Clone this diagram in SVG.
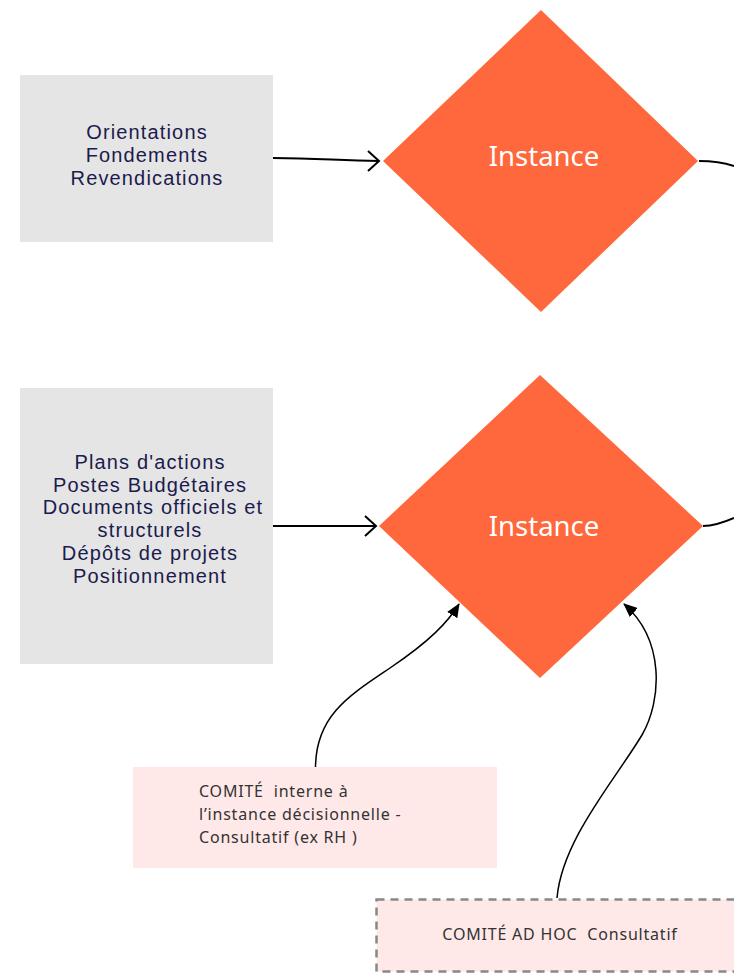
<svg xmlns="http://www.w3.org/2000/svg" width="734" height="973" viewBox="0 0 734 973">
<style>
.src{fill:#e5e5e5}
.srct{font-family:"Liberation Sans",Arial,sans-serif;font-size:20px;letter-spacing:1.15px;fill:#1b1b4d;text-anchor:middle}
.dia{fill:#ff673c}
.diat{font-family:"Noto Sans",sans-serif;font-size:27.5px;fill:#ffffff;text-anchor:middle}
.com{fill:#ffe8e8}
.comt{font-family:"Noto Sans",sans-serif;font-size:16px;letter-spacing:0.8px;fill:#333333;white-space:pre}
.thick{fill:none;stroke:#000;stroke-width:2}
.thin{fill:none;stroke:#000;stroke-width:1.5}
</style>
<defs>
<marker id="chev" viewBox="0 0 14 22" refX="12" refY="11" markerWidth="14" markerHeight="22" markerUnits="userSpaceOnUse" orient="auto">
<polyline points="1,1 12,11 1,21" fill="none" stroke="#000" stroke-width="2"/>
</marker>
<marker id="tri" viewBox="0 0 14 12" refX="13" refY="6" markerWidth="14" markerHeight="12" markerUnits="userSpaceOnUse" orient="auto">
<path d="M0,0 L14,6 L0,12 z" fill="#000"/>
</marker>
</defs>
<rect width="734" height="973" fill="#ffffff"/>
<g id="connectors">
<path class="thick" d="M273,158 C320,158 340,161 379,161" marker-end="url(#chev)"/>
<path class="thick" d="M699,161 C715,161 725,163 734,166"/>
<path class="thick" d="M273,526 L376,526" marker-end="url(#chev)"/>
<path class="thick" d="M703,526 C715,526 725,522 734,518"/>
<path class="thin" d="M315.5,767 C316,715 350,695 390,668 S448,622 459,604" marker-end="url(#tri)"/>
<path class="thin" d="M557,898 C562,840 615,780 642,735 C662,700 665,640 624,604" marker-end="url(#tri)"/>
</g>
<g id="src1">
<rect class="src" x="20" y="75" width="253" height="167"/>
<text class="srct" x="147" y="139">Orientations</text>
<text class="srct" x="147" y="162">Fondements</text>
<text class="srct" x="147" y="185">Revendications</text>
</g>
<g id="instance1">
<polygon class="dia" points="541,10 698,161 541,312 383,161"/>
<text class="diat" x="544" y="165.5">Instance</text>
</g>
<g id="src2">
<rect class="src" x="20" y="388" width="253" height="276"/>
<text class="srct" x="150" y="469">Plans d'actions</text>
<text class="srct" x="150" y="492">Postes Budgétaires</text>
<text class="srct" x="153" y="514">Documents officiels et</text>
<text class="srct" x="150" y="537">structurels</text>
<text class="srct" x="150" y="560">Dépôts de projets</text>
<text class="srct" x="150" y="583">Positionnement</text>
</g>
<g id="instance2">
<polygon class="dia" points="540,375 703,526 540,678 379,526"/>
<text class="diat" x="544" y="535.5">Instance</text>
</g>
<g id="comite1">
<rect class="com" x="133" y="767" width="364" height="101"/>
<text class="comt" x="199" y="797">COMITÉ  interne à</text>
<text class="comt" x="199" y="820">l’instance décisionnelle -</text>
<text class="comt" x="199" y="843">Consultatif (ex RH )</text>
</g>
<g id="comite2">
<rect class="com" x="376.5" y="899.5" width="370" height="72" stroke="#888888" stroke-width="2.5" stroke-dasharray="8,6"/>
<text class="comt" x="560" y="940" text-anchor="middle">COMITÉ AD HOC  Consultatif</text>
</g>
</svg>
